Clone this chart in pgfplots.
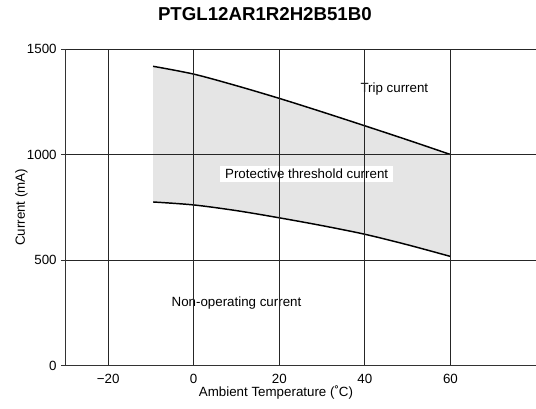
\documentclass[border=0pt]{standalone}
\usepackage{fontspec}
\setmainfont{Liberation Sans}
\usepackage{pgfplots}
\pgfplotsset{compat=1.18}
\usepgfplotslibrary{fillbetween}

\begin{document}
\begin{tikzpicture}
\begin{axis}[
  name=ax,
  scale only axis,
  width=353pt, height=237.4pt,
  xmin=-30, xmax=80, ymin=0, ymax=1500,
  axis x line*=bottom, axis y line*=left,
  axis line style={-, black!80, line width=0.6pt},
  xtick={-20,0,20,40,60},
  xticklabels={−20,0,20,40,60},
  ytick={0,500,1000,1500},
  yticklabels={0,500,1000,1500},
  grid=major,
  grid style={black!85, line width=0.55pt},
  tick align=outside,
  major tick length=3pt,
  tick style={black!80, line width=0.6pt},
  xtick style={draw=none},
  tick label style={font=\fontsize{10}{12}\selectfont},
  axis on top,
]
\addplot[name path=up, draw=none] coordinates {(-9.5,1418) (0,1381) (10,1326) (20,1266) (30,1202) (40,1136) (50,1069) (60,1000)};
\addplot[name path=lo, draw=none] coordinates {(-9.5,775) (0,761) (10,734) (20,700) (30,663) (40,622) (50,572) (60,517)};
\addplot[fill=black!10, draw=none] fill between[of=up and lo];
\addplot[black, line width=1.1pt, smooth] coordinates {(-9.5,1418) (0,1381) (10,1326) (20,1266) (30,1202) (40,1136) (50,1069) (60,1000)};
\addplot[black, line width=1.1pt, smooth] coordinates {(-9.5,775) (0,761) (10,734) (20,700) (30,663) (40,622) (50,572) (60,517)};
\coordinate (trip) at (axis cs:46.9,1309);
\coordinate (prot) at (axis cs:26.4,908);
\coordinate (nonop) at (axis cs:10,296);
\coordinate (ttl) at (rel axis cs:0.424,1);
\coordinate (xl) at (rel axis cs:0.4476,0);
\coordinate (yl) at (rel axis cs:0,0.5);
\end{axis}
\node[font=\fontsize{10}{12}\selectfont] at (trip) {Trip current};
\node[font=\fontsize{10}{12}\selectfont, fill=white, inner xsep=3.5pt, inner ysep=2.5pt] at (prot) {Protective threshold current};
\node[font=\fontsize{10}{12}\selectfont, fill=white, inner xsep=3.5pt, inner ysep=6pt] at (nonop) {Non-operating current};
\node[font=\fontsize{14}{16}\selectfont\bfseries] at ([yshift=26pt]ttl) {PTGL12AR1R2H2B51B0};
\node[font=\fontsize{10}{12}\selectfont, anchor=base] at ([yshift=-23.4pt]xl) {Ambient Temperature (˚C)};
\node[font=\fontsize{10}{12}\selectfont, rotate=90] at ([xshift=-33pt]yl) {Current (mA)};
\pgfresetboundingbox
\path[use as bounding box] ([xshift=-49pt,yshift=-32.6pt]ax.south west) rectangle ([yshift=36.75pt]ax.north east);
\end{tikzpicture}
\end{document}
